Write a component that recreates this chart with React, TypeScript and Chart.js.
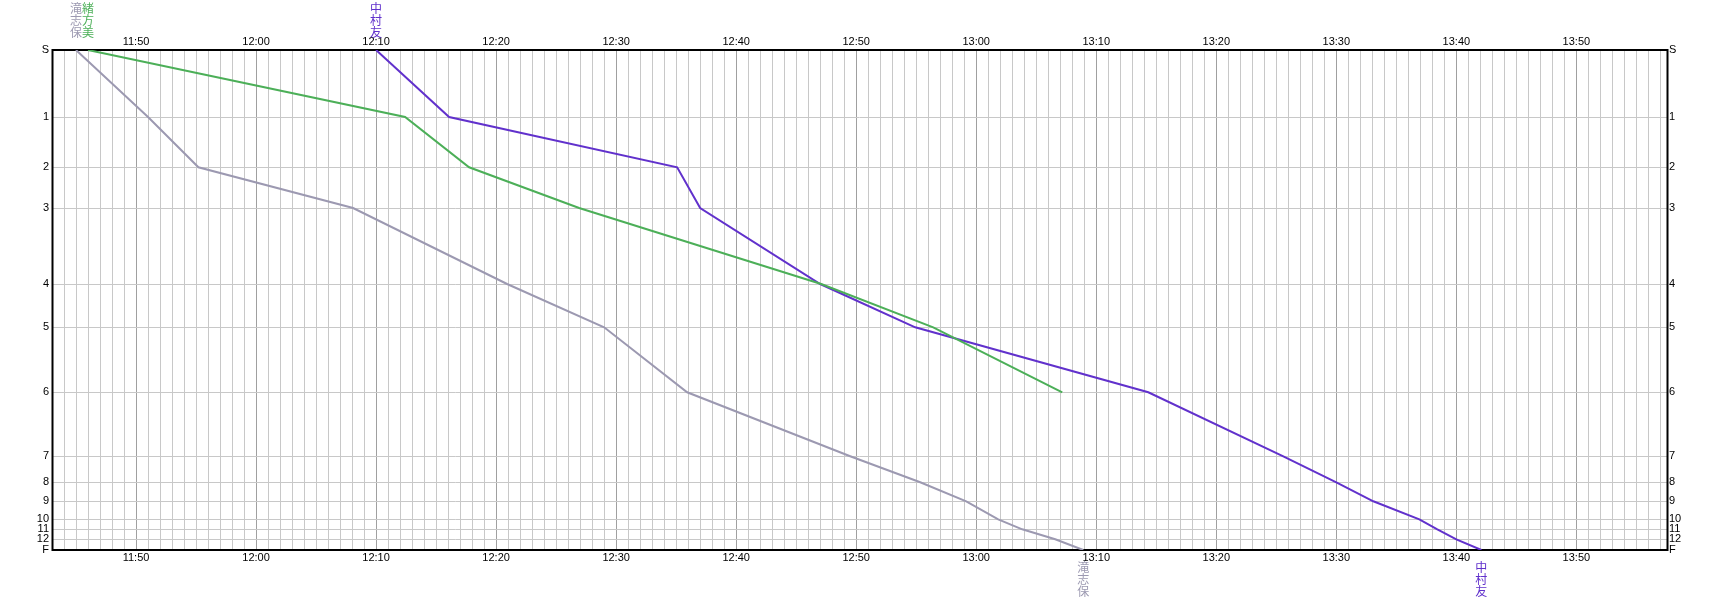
import { useEffect, useRef } from 'react';
import { Chart, registerables } from 'chart.js';

Chart.register(...registerables);

// Controls of the course (S = start, F = finish)
const controlLabels = ['S', '1', '2', '3', '4', '5', '6', '7', '8', '9', '10', '11', '12', 'F'];
// Cumulative course position of each control (axis units, S = 0 .. F = 500)
const controlPositions = [0, 67, 117.3, 158, 234, 277.3, 342.3, 406.3, 432.3, 451.3, 469.3, 479.3, 489.3, 500];

// Runners
const runnerNames = ['滝志保', '緒方美', '中村友'];

// Passing times at each control (HH:MM:SS)
const takiTimes = [
  '11:45:00', '11:51:00', '11:55:12', '12:08:05', '12:20:55', '12:29:00', '12:35:55',
  '12:49:30', '12:55:20', '12:59:10', '13:01:50', '13:03:50', '13:06:35', '13:08:55',
];
const ogataTimes = ['11:46:00', '12:12:25', '12:17:45', '12:26:55', '12:47:05', '12:56:25', '13:07:10'];
const nakamuraTimes = [
  '12:10:00', '12:16:05', '12:35:05', '12:37:00', '12:47:00', '12:54:55', '13:14:20',
  '13:25:35', '13:30:00', '13:33:05', '13:36:55', '13:38:25', '13:40:00', '13:42:05',
];
const runnerTimes = [takiTimes, ogataTimes, nakamuraTimes];

// Time axis range
const axisStart = '11:43:00';
const axisEnd = '13:57:33';

const runnerColors = ['#9c99b1', '#4caf58', '#6131cc'];

const toMinutes = (t: string) => {
  const [h, m, s] = t.split(':').map(Number);
  return h * 60 + m + (s || 0) / 60;
};
const fmtTime = (v: number) => {
  const h = Math.floor(v / 60);
  const m = Math.round(v - h * 60);
  return `${h}:${String(m).padStart(2, '0')}`;
};

const FONT = '"Liberation Sans", Arial, sans-serif';

const namePlugin = {
  id: 'runnerNames',
  beforeDatasetsDraw(chart: any) {
    const { ctx, chartArea } = chart;
    ctx.save();
    ctx.strokeStyle = '#000';
    ctx.lineWidth = 2;
    ctx.strokeRect(chartArea.left + 0.5, chartArea.top, chartArea.right - chartArea.left, chartArea.bottom - chartArea.top);
    ctx.restore();
  },
  afterDraw(chart: any) {
    const { ctx, chartArea } = chart;
    ctx.save();
    ctx.font = '12px "Noto Sans CJK JP", sans-serif';
    ctx.textAlign = 'center';
    ctx.textBaseline = 'middle';
    chart.data.datasets.forEach((ds: any, i: number) => {
      const meta = chart.getDatasetMeta(i);
      const pts = meta.data;
      if (!pts.length) return;
      const first = pts[0];
      const last = pts[pts.length - 1];
      const chars = Array.from(ds.label as string);
      ctx.fillStyle = ds.borderColor;
      chars.forEach((c, k) => ctx.fillText(c, first.x, 8 + k * 12));
      const lastVal = ds.data[ds.data.length - 1].y;
      if (lastVal === controlPositions[controlPositions.length - 1]) {
        chars.forEach((c, k) => ctx.fillText(c, last.x, chartArea.bottom + 17 + k * 12));
      }
    });
    ctx.restore();
  },
};

export default function App() {
  const ref = useRef<HTMLCanvasElement | null>(null);

  useEffect(() => {
    document.body.style.margin = '0';
    const canvas = ref.current;
    if (!canvas) return;
    const tMin = toMinutes(axisStart);
    const tMax = toMinutes(axisEnd);

    const datasets = runnerNames.map((name, i) => ({
      label: name,
      data: runnerTimes[i].map((t, k) => ({ x: toMinutes(t), y: controlPositions[k] })),
      borderColor: runnerColors[i],
      backgroundColor: runnerColors[i],
      borderWidth: 2,
      pointRadius: 0,
      tension: 0,
      fill: false,
    }));

    const minuteTicks = (scale: any) => {
      const ticks = [];
      for (let v = Math.ceil(tMin); v <= tMax; v++) ticks.push({ value: v });
      scale.ticks = ticks;
    };
    const timeLabel = (v: any) => {
      const n = Number(v);
      return Math.round(n) % 10 === 0 ? fmtTime(n) : '';
    };
    const yTicks = (scale: any) => {
      scale.ticks = controlPositions.map((v) => ({ value: v }));
    };
    const yLabel = (_v: any, idx: number) => controlLabels[idx];

    const chart = new Chart(canvas, {
      type: 'line',
      data: { datasets },
      plugins: [namePlugin],
      options: {
        animation: false,
        responsive: false,
        layout: { padding: 0 },
        plugins: { legend: { display: false }, tooltip: { enabled: false } },
        scales: {
          x: {
            type: 'linear',
            position: 'bottom',
            min: tMin,
            max: tMax,
            afterBuildTicks: minuteTicks,
            afterFit: (s: any) => { s.height = 50; },
            grid: {
              drawTicks: false,
              color: (c: any) => (Math.round(c.tick?.value ?? 1) % 10 === 0 ? '#a0a0a0' : '#c8c8c8'),
              lineWidth: 1,
            },
            border: { display: false },
            ticks: {
              autoSkip: false,
              maxRotation: 0,
              minRotation: 0,
              padding: 1,
              color: '#000',
              font: { family: FONT, size: 11 },
              callback: timeLabel,
            },
          },
          x2: {
            type: 'linear',
            position: 'top',
            min: tMin,
            max: tMax,
            afterBuildTicks: minuteTicks,
            afterFit: (s: any) => { s.height = 50; },
            grid: { display: false, drawTicks: false },
            border: { display: false },
            ticks: {
              autoSkip: false,
              maxRotation: 0,
              minRotation: 0,
              padding: 1,
              color: '#000',
              font: { family: FONT, size: 11 },
              callback: timeLabel,
            },
          },
          y: {
            type: 'linear',
            position: 'left',
            reverse: true,
            min: 0,
            max: 500,
            afterBuildTicks: yTicks,
            afterFit: (s: any) => { s.width = 52; },
            grid: { drawTicks: false, color: '#c8c8c8', lineWidth: 1 },
            border: { display: false },
            ticks: {
              autoSkip: false,
              padding: 3,
              color: '#000',
              font: { family: FONT, size: 11 },
              callback: yLabel,
            },
          },
          y2: {
            type: 'linear',
            position: 'right',
            reverse: true,
            min: 0,
            max: 500,
            afterBuildTicks: yTicks,
            afterFit: (s: any) => { s.width = 52; },
            grid: { display: false, drawTicks: false },
            border: { display: false },
            ticks: {
              autoSkip: false,
              padding: 2,
              color: '#000',
              font: { family: FONT, size: 11 },
              callback: yLabel,
            },
          },
        },
      },
    } as any);

    return () => chart.destroy();
  }, []);

  return <canvas ref={ref} width={1719} height={600} style={{ display: 'block' }} />;
}
